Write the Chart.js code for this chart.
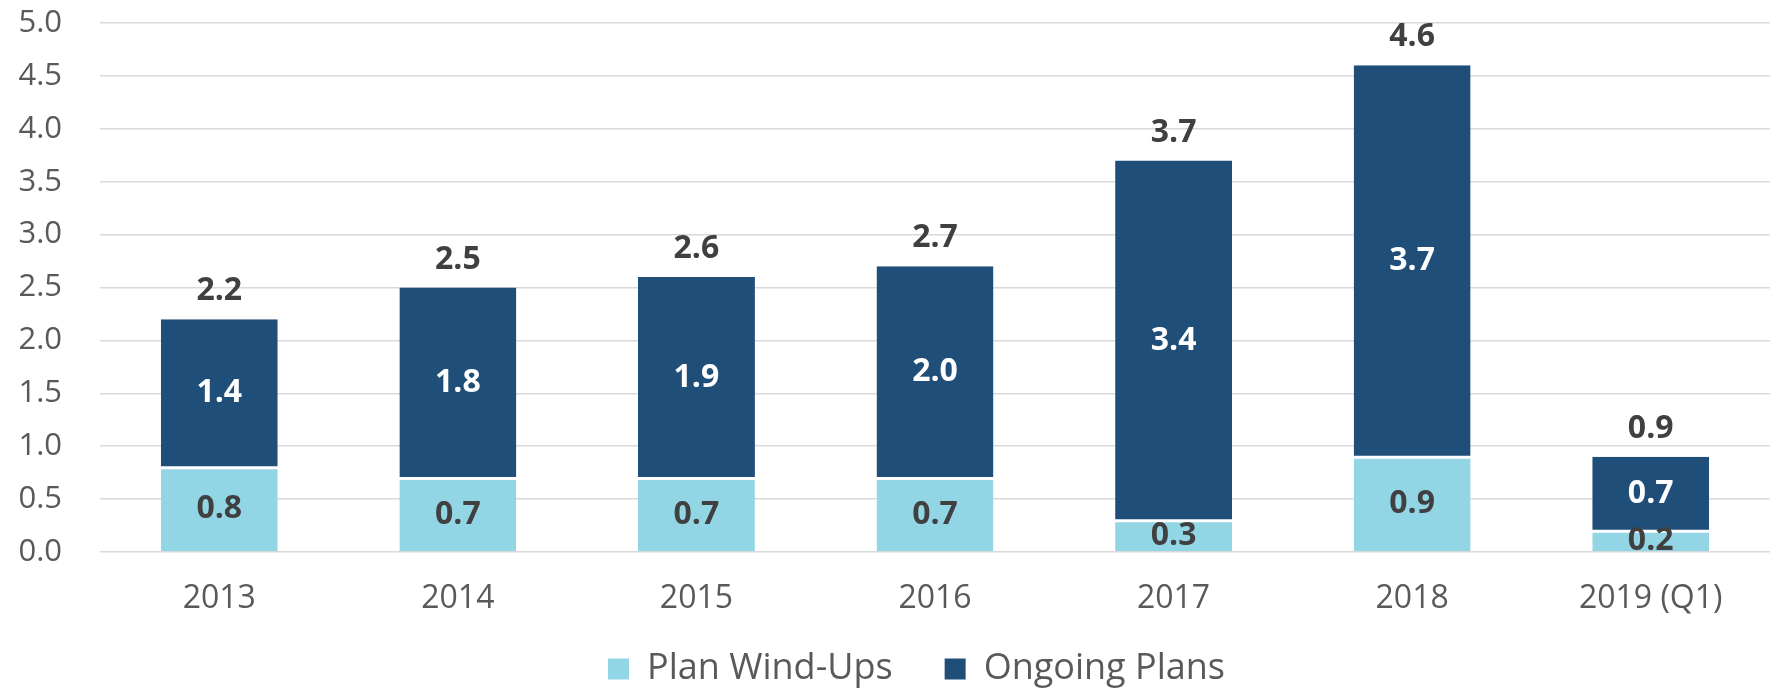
<!DOCTYPE html>
<html>
<head>
<meta charset="utf-8">
<script src="https://cdn.jsdelivr.net/npm/chart.js@4/dist/chart.umd.min.js"></script>
<style>
	html, body { margin: 0; padding: 0; background: #fff; }
	#wrap { width: 1770px; height: 688px; }
</style>
</head>
<body>
<div id="wrap"><canvas id="fundingChart"></canvas></div>
<script>
let years = ["2013", "2014", "2015", "2016", "2017", "2018", "2019 (Q1)"];
let windUps = [0.8, 0.7, 0.7, 0.7, 0.3, 0.9, 0.2];
let ongoing = [1.4, 1.8, 1.9, 2.0, 3.4, 3.7, 0.7];
let totals = [2.2, 2.5, 2.6, 2.7, 3.7, 4.6, 0.9];

// draws the value inside each segment and the total above each bar
let valueLabels = {
	id: "valueLabels",
	afterLayout: function (chart) {
		// let the year labels run below the (short) axis box without being clipped
		chart.scales.x.bottom = chart.height;
		// legend row sits a bit right of centre in the original
		chart.legend.left += 22;
		chart.legend.right += 22;
	},
	afterDatasetsDraw: function (chart) {
		let ctx = chart.ctx;
		ctx.save();
		ctx.font = "bold 32px 'Open Sans'";
		ctx.textAlign = "center";
		ctx.textBaseline = "middle";
		chart.data.datasets.forEach(function (ds, i) {
			let meta = chart.getDatasetMeta(i);
			meta.data.forEach(function (bar, j) {
				ctx.fillStyle = i === 0 ? "#404040" : "#ffffff";
				ctx.fillText(ds.data[j].toFixed(1), bar.x, (bar.y + bar.base) / 2);
			});
		});
		let top = chart.getDatasetMeta(1);
		ctx.fillStyle = "#404040";
		top.data.forEach(function (bar, j) {
			let y = chart.scales.y.getPixelForValue(totals[j]);
			ctx.fillText(totals[j].toFixed(1), bar.x, y - 28);
		});
		ctx.restore();
	}
};

let chart = new Chart("fundingChart", {
	type: "bar",
	data: {
		labels: years,
		datasets: [{
			label: "Plan Wind-Ups",
			data: windUps,
			backgroundColor: "#92d6e6",
			borderColor: "#ffffff",
			borderWidth: { top: 2 },
			borderSkipped: false
		}, {
			label: "Ongoing Plans",
			data: ongoing,
			backgroundColor: "#1f4e79",
			borderColor: "#ffffff",
			borderWidth: { bottom: 1 },
			borderSkipped: false
		}]
	},
	plugins: [valueLabels],
	options: {
		responsive: true,
		maintainAspectRatio: false,
		animation: false,
		layout: { padding: { top: 23, right: -19, bottom: -9, left: 0 } },
		datasets: {
			bar: { barPercentage: 0.49, categoryPercentage: 1 }
		},
		scales: {
			x: {
				stacked: true,
				grid: { display: false, drawTicks: false },
				border: { display: false },
				ticks: { color: "#595959", font: { family: "'Open Sans'", size: 32 }, padding: 28, maxRotation: 0 },
				afterFit: function (s) { s.height = 47; }
			},
			y: {
				stacked: true,
				min: 0,
				max: 5,
				grid: { color: "#d9d9d9", lineWidth: 1.5, drawTicks: true, tickLength: 38, tickColor: "transparent" },
				border: { display: false },
				ticks: {
					stepSize: 0.5,
					color: "#595959",
					font: { family: "'Open Sans'", size: 31 },
					padding: 0,
					callback: function (v) { return v.toFixed(1); }
				},
				afterFit: function (s) { s.width = 100; }
			}
		},
		plugins: {
			legend: {
				position: "bottom",
				labels: {
					boxWidth: 21,
					boxHeight: 21,
					padding: 52,
					color: "#595959",
					font: { family: "'Open Sans'", size: 36 },
					generateLabels: function (c) {
						return Chart.defaults.plugins.legend.labels.generateLabels(c).map(function (item) {
							item.lineWidth = 0;
							return item;
						});
					}
				}
			},
			tooltip: { enabled: false }
		}
	}
});
</script>
</body>
</html>
